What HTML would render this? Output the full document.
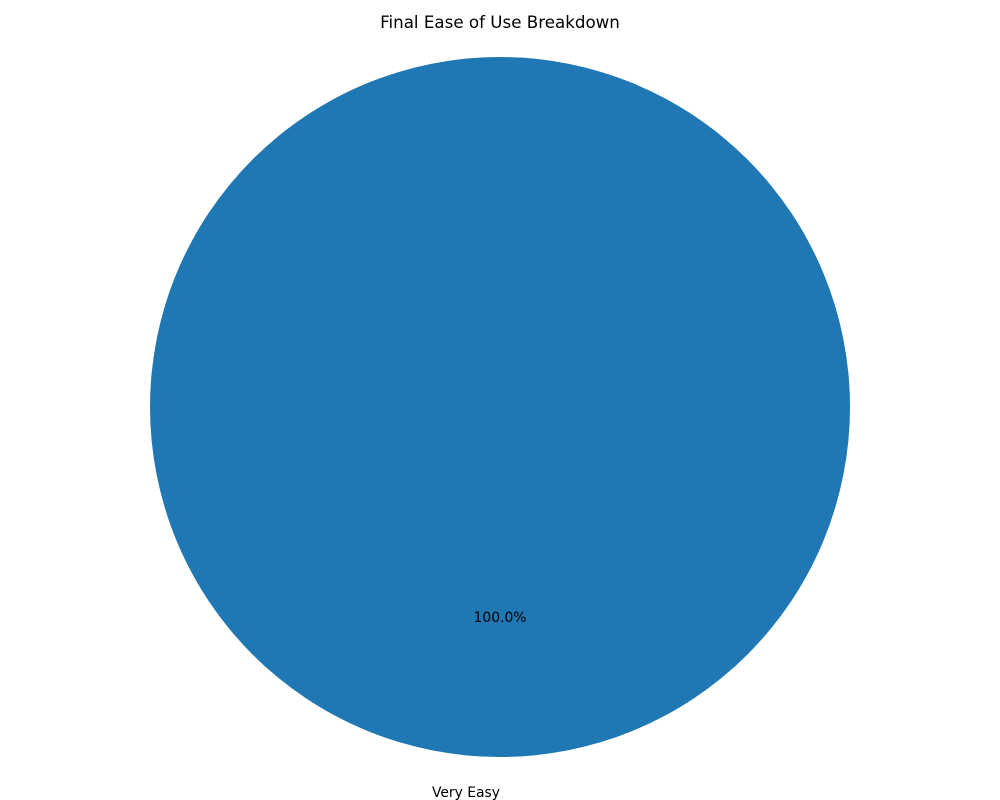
<!DOCTYPE html>
<html>
<head>
<meta charset="utf-8">
<style>
  html, body { margin: 0; padding: 0; background: #ffffff; }
  svg { display: block; }
  text { font-family: "DejaVu Sans", "Liberation Sans", sans-serif; }
</style>
</head>
<body>
<svg id="chart" width="1000" height="800" viewBox="0 0 1000 800" xmlns="http://www.w3.org/2000/svg">
  <rect width="1000" height="800" fill="#ffffff"></rect>
  <text x="500" y="28" text-anchor="middle" font-size="16.7" fill="#000">Final Ease of Use Breakdown</text>
  <g id="slices"></g>
</svg>
<script>
const categories = ["Very Easy"];
const values = [1];
const colors = ["#1f77b4", "#ff7f0e", "#2ca02c", "#d62728", "#9467bd"];

const cx = 500, cy = 407, r = 350;
const svgNS = "http://www.w3.org/2000/svg";
const g = document.getElementById("slices");
const total = values.reduce((a, b) => a + b, 0);
let start = 90;

function pt(angDeg, rad) {
  const a = angDeg * Math.PI / 180;
  return [cx + rad * Math.cos(a), cy - rad * Math.sin(a)];
}

values.forEach((v, i) => {
  const sweep = 360 * v / total;
  const end = start + sweep;
  let shape;
  if (sweep >= 359.999) {
    shape = document.createElementNS(svgNS, "circle");
    shape.setAttribute("cx", cx);
    shape.setAttribute("cy", cy);
    shape.setAttribute("r", r);
  } else {
    shape = document.createElementNS(svgNS, "path");
    const [x1, y1] = pt(start, r);
    const [x2, y2] = pt(end, r);
    const large = sweep > 180 ? 1 : 0;
    shape.setAttribute("d", `M${cx},${cy} L${x1},${y1} A${r},${r} 0 ${large} 0 ${x2},${y2} Z`);
  }
  shape.setAttribute("fill", colors[i % colors.length]);
  
  
  g.appendChild(shape);

  const mid = start + sweep / 2;
  const [lx, ly] = pt(mid, r * 1.1);
  const label = document.createElementNS(svgNS, "text");
  const cosm = Math.cos(mid * Math.PI / 180);
  label.setAttribute("x", lx);
  label.setAttribute("y", ly + 5);
  label.setAttribute("font-size", "13.9");
  label.setAttribute("text-anchor", cosm > 1e-9 ? "start" : "end");
  label.textContent = categories[i];
  
  
  g.appendChild(label);

  const [px, py] = pt(mid, r * 0.6);
  const pct = document.createElementNS(svgNS, "text");
  pct.setAttribute("x", px);
  pct.setAttribute("y", py + 5);
  pct.setAttribute("font-size", "13.9");
  pct.setAttribute("text-anchor", "middle");
  pct.textContent = (100 * v / total).toFixed(1) + "%";
  
  
  g.appendChild(pct);

  start = end;
});
</script>
</body>
</html>
